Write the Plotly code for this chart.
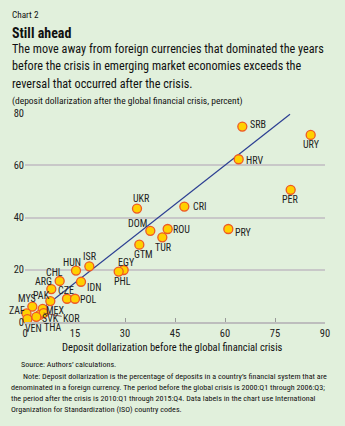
import plotly.graph_objects as go

countries = ["SRB","URY","HRV","PER","UKR","CRI","PRY","DOM","ROU","TUR","GTM","EGY","PHL","ISR","HUN","IDN","CHL","ARG","CZE","POL","PAK","MYS","ZAF","MEX","SVK","KOR","VEN","THA"]
before = [65.2,85.7,64.1,79.7,33.6,47.8,61.0,37.6,42.8,41.2,34.3,29.6,28.1,19.3,15.3,16.8,10.4,7.9,12.6,15.0,7.6,2.2,0.45,5.3,4.4,5.6,0.7,3.4]
after = [74.8,71.6,62.3,50.6,43.4,44.2,35.6,34.9,35.6,32.4,29.6,19.9,19.3,21.3,19.7,15.4,15.7,12.6,8.9,8.9,8.0,5.9,3.3,5.0,2.7,3.4,1.1,2.0]
fit_x = [0, 79.5]
fit_y = [0, 79.5]
x_ticks = [0, 15, 30, 45, 60, 75, 90]
y_ticks = [0, 20, 40, 60, 80]

# label offsets in pixels (dx right, dy up)
label_off = {
    "SRB": (16, 2), "URY": (1, -10), "HRV": (16, -1), "PER": (0, -10), "UKR": (4, 10),
    "CRI": (15, 0), "PRY": (15, -3), "DOM": (-13, 7), "ROU": (14, 0), "TUR": (1, -10),
    "GTM": (4, -10), "EGY": (3, 8), "PHL": (4, -10), "ISR": (1, 10), "HUN": (-4, 8),
    "IDN": (13, -6), "CHL": (-5, 8), "ARG": (-8, 8), "CZE": (-1, 8), "POL": (13, -1),
    "PAK": (-9, 6), "MYS": (-5, 8), "ZAF": (-10, 3), "MEX": (13, -2), "SVK": (11, -4),
    "KOR": (28, -5), "VEN": (6, -9), "THA": (16, -11),
}

FONT = "Roboto Condensed, Roboto, sans-serif"
BG = "#E1F0DC"

fig = go.Figure()
fig.add_trace(go.Scatter(x=fit_x, y=fit_y, mode="lines",
                         line=dict(color="#2B3E92", width=1.2), hoverinfo="skip"))
fig.add_trace(go.Scatter(x=before, y=after, mode="markers",
                         marker=dict(size=9, color="#FFD000", line=dict(color="#EE5A24", width=1.3)),
                         cliponaxis=False, text=countries, hoverinfo="text"))

for c, bx, ay in zip(countries, before, after):
    dx, dy = label_off[c]
    if c == "KOR":
        fig.add_annotation(x=bx, y=ay, xref="x", yref="y", text=c, showarrow=True,
                           arrowhead=0, arrowwidth=0.8, arrowcolor="#6b2a2a",
                           ax=dx, ay=-dy, standoff=0,
                           font=dict(family=FONT, size=10, color="#222"))
    else:
        fig.add_annotation(x=bx, y=ay, xref="x", yref="y", text=c, showarrow=False,
                           xshift=dx, yshift=dy, font=dict(family=FONT, size=10, color="#222"))

# plot area in px
L, R, T, B = 24.5, 325, 113, 322
def px(xp):
    return (xp - L) / (R - L)
def py(yp):
    return (B - yp) / (B - T)

def txt(x, y, s, size, bold=False, color="#111", anchor="left"):
    fig.add_annotation(xref="paper", yref="paper", x=px(x), y=py(y), text=("<b>%s</b>" % s if bold else s),
                       showarrow=False, xanchor=anchor, yanchor="middle",
                       font=dict(family=FONT, size=size, color=color))

txt(9, 14.5, "Chart 2", 9.2)
txt(9, 33, "Still ahead", 14, bold=True)
txt(9, 49, "The move away from foreign currencies that dominated the years", 12.2)
txt(9, 66.5, "before the crisis in emerging market economies exceeds the", 12.2)
txt(9, 84, "reversal that occurred after the crisis.", 12.2)
txt(9, 101, "(deposit dollarization after the global financial crisis, percent)", 9.5)
txt(172.5, 347, "Deposit dollarization before the global financial crisis", 10.5, anchor="center")
txt(18, 364, "Source: Authors’ calculations.", 8.1)
txt(20, 375.5, "Note: Deposit dollarization is the percentage of deposits in a country’s financial system that are", 8.1)
txt(8, 387, "denominated in a foreign currency. The period before the global crisis is 2000:Q1 through 2006:Q3;", 8.1)
txt(8, 398, "the period after the crisis is 2010:Q1 through 2015:Q4. Data labels in the chart use International", 8.1)
txt(8, 409, "Organization for Standardization (ISO) country codes.", 8.1)

fig.update_layout(
    width=345, height=426, margin=dict(l=L, r=345 - R, t=T, b=426 - B),
    paper_bgcolor=BG, plot_bgcolor=BG, showlegend=False,
    xaxis=dict(range=[0, 90], tickvals=x_ticks, showgrid=False, zeroline=False,
               showline=True, linecolor="#BDBDBD", linewidth=2, ticks="inside",
               ticklen=4, tickcolor="#9a9a9a", tickwidth=1.2,
               tickfont=dict(family=FONT, size=10.5, color="#222")),
    yaxis=dict(range=[0, 80], tickvals=y_ticks, showgrid=True, gridcolor="#C8C8C8",
               gridwidth=1.5, zeroline=False, showline=False, ticks="",
               tickfont=dict(family=FONT, size=10.5, color="#222")),
    font=dict(family=FONT),
)
fig.write_html("out.html")
